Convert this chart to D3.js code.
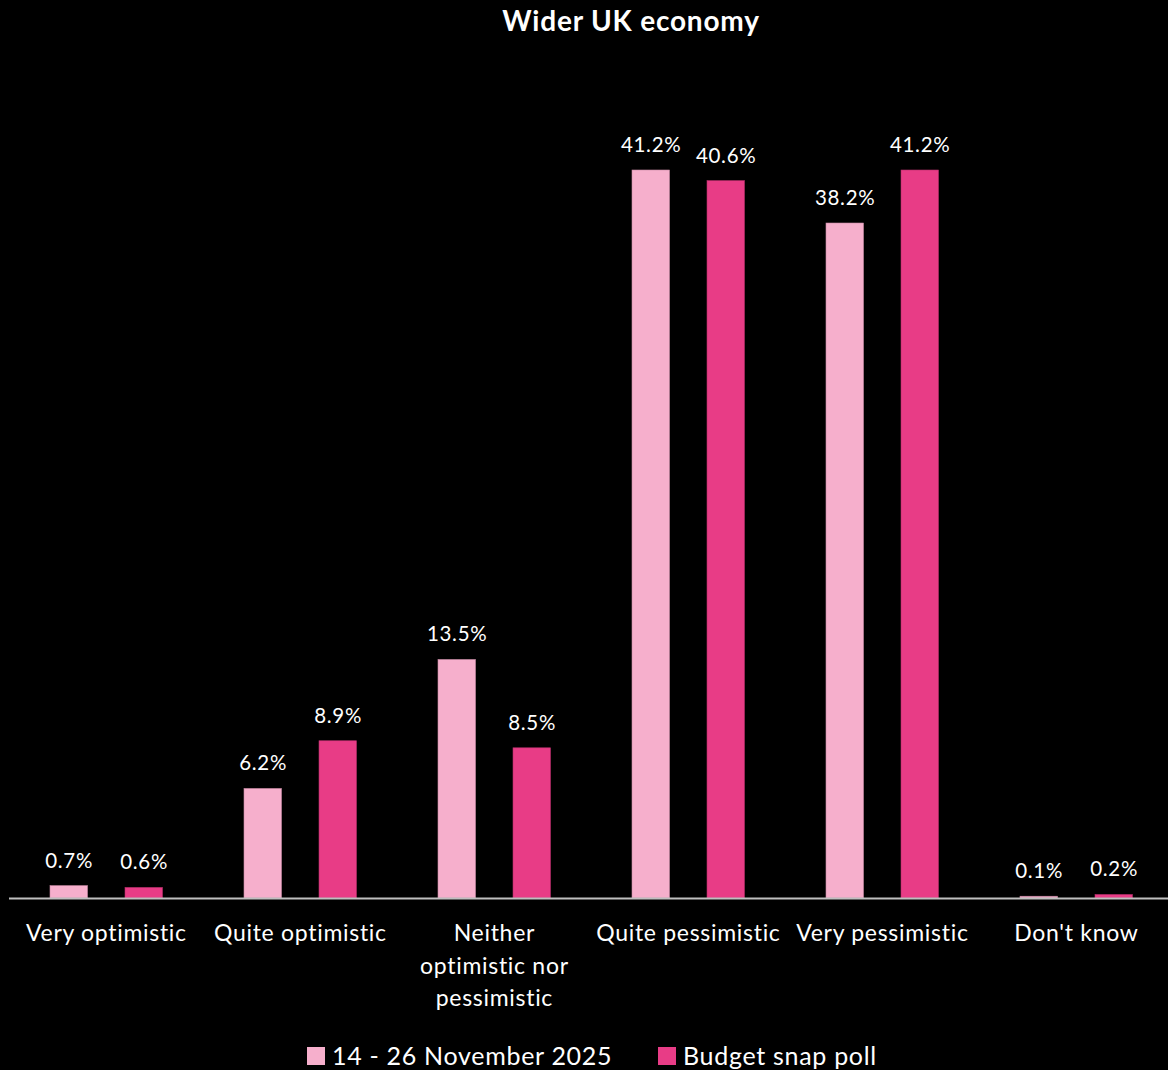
<!DOCTYPE html>
<html><head><meta charset="utf-8">
<script src="https://cdn.jsdelivr.net/npm/d3@7/dist/d3.min.js"></script>
<style>html,body{margin:0;padding:0;background:#000;}svg{display:block;}</style>
</head><body>
<script>
const categories = [["Very optimistic"],["Quite optimistic"],["Neither","optimistic nor","pessimistic"],["Quite pessimistic"],["Very pessimistic"],["Don't know"]];
const series1Name = "14 - 26 November 2025";
const series2Name = "Budget snap poll";
const series1 = [0.7, 6.2, 13.5, 41.2, 38.2, 0.1];
const series2 = [0.6, 8.9, 8.5, 40.6, 41.2, 0.2];
const colors = ["#F6AFCC", "#E83C86"];

const W = 1168, H = 1070;
const font = "Lato, 'Open Sans', sans-serif";
const svg = d3.select("body").append("svg").attr("width", W).attr("height", H).style("background","#000");

const x0 = d3.scaleBand().domain(d3.range(categories.length)).range([9, 9 + 194*6]).paddingInner(0).paddingOuter(0);
const offsets = [41, 116];
const bw = 37.5;
const y = d3.scaleLinear().domain([0, 41.2]).range([898, 170]);

svg.append("text").attr("x", 631).attr("y", 31).attr("text-anchor","middle")
  .attr("fill","#fff").attr("font-family", font).attr("font-weight","bold").attr("font-size", 28)
  .attr("letter-spacing", 0.8).text("Wider UK economy");

const data = [series1, series2];
data.forEach((s, si) => {
  const g = svg.append("g");
  g.selectAll("rect").data(s).enter().append("rect")
    .attr("x", (d,i) => x0(i) + offsets[si])
    .attr("y", d => y(d))
    .attr("width", bw)
    .attr("height", d => y(0) - y(d))
    .attr("fill", colors[si])
    .attr("stroke", si === 0 ? "#c98aa5" : "#b52e6a").attr("stroke-width", 0.6);
  g.selectAll("text").data(s).enter().append("text")
    .attr("x", (d,i) => x0(i) + offsets[si] + bw/2 + 0.4)
    .attr("y", d => y(d) - 18)
    .attr("text-anchor","middle").attr("fill","#fff").attr("font-family", font).attr("font-size", 20.5)
    .attr("letter-spacing", 0.7)
    .text(d => d.toFixed(1) + "%");
});

svg.append("line").attr("x1", 9).attr("x2", W).attr("y1", y(0)+0.5).attr("y2", y(0)+0.5)
  .attr("stroke","#bfbfbf").attr("stroke-width", 2);

const xAxis = svg.append("g");
categories.forEach((lines, i) => {
  const cx = x0(i) + x0.bandwidth()/2 + 0.4;
  const t = xAxis.append("text").attr("x", cx).attr("y", 941)
    .attr("text-anchor","middle").attr("fill","#fff").attr("font-family", font).attr("font-size", 23)
    .attr("letter-spacing", 0.7);
  lines.forEach((l, j) => t.append("tspan").attr("x", cx).attr("dy", j === 0 ? 0 : 32.5).text(l));
});

const legend = [{name: series1Name, c: colors[0], x: 307}, {name: series2Name, c: colors[1], x: 658}];
legend.forEach(l => {
  svg.append("rect").attr("x", l.x).attr("y", 1047).attr("width", 18).attr("height", 18).attr("fill", l.c);
  svg.append("text").attr("x", l.x + 25).attr("y", 1065).attr("fill","#fff").attr("font-family", font).attr("font-size", 25)
    .attr("letter-spacing", 0.7).text(l.name);
});
</script>
</body></html>
